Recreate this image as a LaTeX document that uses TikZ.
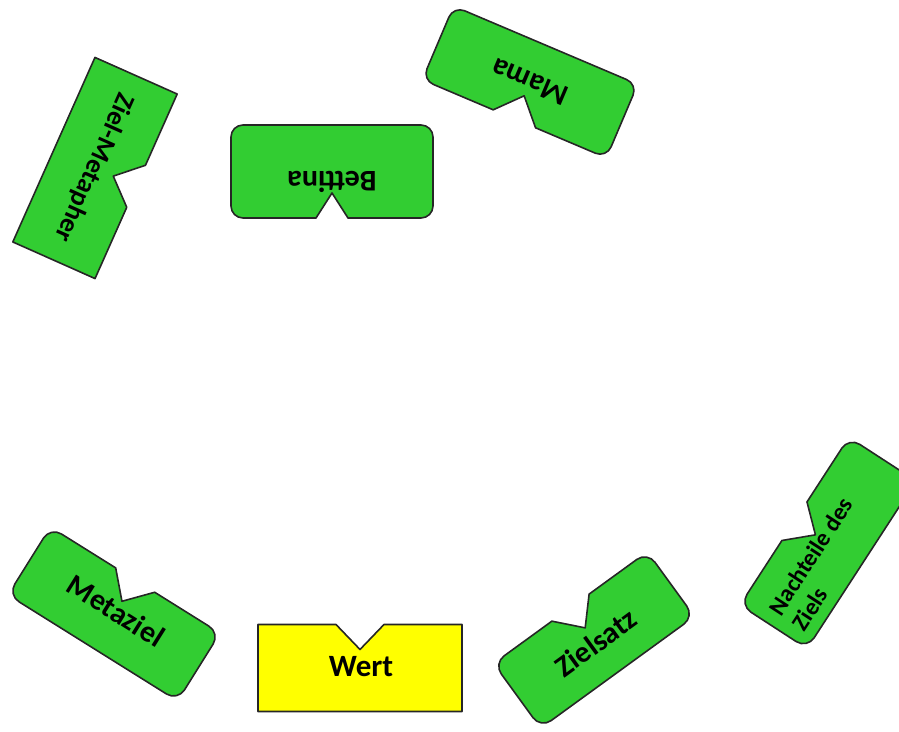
\documentclass[tikz,border=0pt]{standalone}
\usepackage{fontspec}
\setmainfont{Carlito}
\usepackage{tikz}

\definecolor{kartengruen}{RGB}{50,205,50}
\definecolor{wertgelb}{RGB}{255,255,0}

% card outline with a notch on top: width, height, corner radius, notch width
\newcommand{\kartenumriss}[4]{(0,#2/2-25) -- (#4/2,#2/2) -- (#1/2-#3,#2/2) arc[start angle=90, end angle=0, radius=#3] -- (#1/2,-#2/2+#3) arc[start angle=0, end angle=-90, radius=#3] -- (-#1/2+#3,-#2/2) arc[start angle=-90, end angle=-180, radius=#3] -- (-#1/2,#2/2-#3) arc[start angle=180, end angle=90, radius=#3] -- (-#4/2,#2/2) -- cycle}

\begin{document}
\begin{tikzpicture}[x=1pt, y=1pt, line join=round]
	\tikzstyle{karte} = [draw=black!85, line width=1.6pt, fill=kartengruen]
	\tikzstyle{wertkarte} = [karte, fill=wertgelb]
	\tikzstyle{aufschrift} = [transform shape, inner sep=0pt, text height=19pt, text depth=0pt, font=\bfseries\fontsize{30}{36}\selectfont]

	\clip (0,0) rectangle (899,731);

	\begin{scope}[shift={(95,563)}, rotate=-114]
		\draw[karte] \kartenumriss{202}{90}{0.1}{46};
		\node[aufschrift, text height=17pt, font=\bfseries\fontsize{27}{32}\selectfont] (metapher) {Ziel-Metapher};
	\end{scope}

	\begin{scope}[shift={(332,559.5)}, rotate=180]
		\draw[karte] \kartenumriss{202}{93}{12}{32};
		\node[aufschrift] (bettina) at (0,10) {Bettina};
	\end{scope}

	\begin{scope}[shift={(530,649)}, rotate=157]
		\draw[karte] \kartenumriss{200}{80}{12}{46};
		\node[aufschrift] (mama) {Mama};
	\end{scope}

	\begin{scope}[shift={(114,117)}, rotate=-32]
		\draw[karte] \kartenumriss{200}{80}{13}{46};
		\node[aufschrift] (metaziel) at (0,3) {Metaziel};
	\end{scope}

	\begin{scope}[shift={(360,63)}]
		\draw[wertkarte] \kartenumriss{204}{87}{0.1}{48};
		\node[aufschrift, font=\bfseries\fontsize{31}{36}\selectfont] (wert) at (1,1) {Wert};
	\end{scope}

	\begin{scope}[shift={(594,91)}, rotate=36]
		\draw[karte] \kartenumriss{190}{80}{13}{46};
		\node[aufschrift] (zielsatz) at (0,-4) {Zielsatz};
	\end{scope}

	\begin{scope}[shift={(828,188)}, rotate=57]
		\draw[karte] \kartenumriss{200}{80}{13}{46};
		\node[aufschrift, anchor=north west, align=left, text height=, text depth=, font=\bfseries\fontsize{24}{28}\selectfont] (nachteile) at (-88,16) {Nachteile des\\Ziels};
	\end{scope}
\end{tikzpicture}
\end{document}
